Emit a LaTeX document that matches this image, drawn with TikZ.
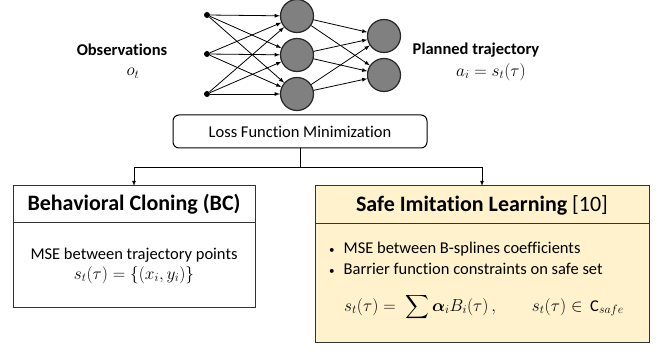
\documentclass[tikz,border=0pt]{standalone}
\usepackage{amsmath,amssymb}
\usepackage{fontspec}
\setmainfont{Carlito}[Ligatures=NoCommon]
\usepackage{tikz}
\usetikzlibrary{calc, arrows, positioning}
\tikzset{>=latex}
\definecolor{myyellow}{RGB}{255, 242, 204}
\definecolor{mygray}{RGB}{128, 128, 128}
\newcommand{\smallbullet}{{\fontsize{11}{11}\selectfont\textbullet}\hspace{9pt}}

\begin{document}
\begin{tikzpicture}[x=1pt, y=-1pt, font=\fontsize{16.5}{20}\selectfont,
	dot/.style={circle, fill=black, inner sep=0, minimum size=6pt},
	neuron/.style={circle, draw=black!85, fill=mygray, line width=1.2pt, minimum size=33pt, inner sep=0},
	conn/.style={->, line width=0.8pt},
	headbox/.style={draw=black!80, line width=1pt, outer sep=0, inner sep=0, font=\fontsize{22}{26}\selectfont\bfseries},
	bodybox/.style={draw=black!80, line width=1pt, outer sep=0, inner sep=0, align=center}]
\useasboundingbox (0,0) rectangle (664,352);

% network
\foreach \y [count=\i] in {15, 54, 94}{
	\node[dot] (in\i) at (207,\y) {};
}
\foreach \y [count=\i] in {16, 55, 94}{
	\node[neuron] (h\i) at (297,\y) {};
}
\foreach \y [count=\i] in {36, 75}{
	\node[neuron] (out\i) at (384,\y) {};
}
\foreach \i in {1, 2, 3}{
	\foreach \j in {1, 2, 3}{
		\draw[conn] (in\i) -- (h\j);
	}
	\foreach \j in {1, 2}{
		\draw[conn] (h\i) -- (out\j);
	}
}

\node[font=\fontsize{16.5}{20}\selectfont\bfseries] (obs) at (122,50) {Observations};
\node (ot) at (133,73) {$o_t$};
\node[font=\fontsize{16.5}{20}\selectfont\bfseries] (plan) at (476,50) {Planned trajectory};
\node (ai) at (491,72) {$a_i = s_t(\tau)$};

\node[draw, line width=1pt, rounded corners=6pt, minimum width=254pt, minimum height=33pt] (loss) at (300,131.5) {Loss Function Minimization};

% behavioral cloning
\node[headbox, minimum width=242pt, minimum height=37pt] (bchead) at (134,204.5) {Behavioral Cloning (BC)};
\node[bodybox, minimum width=242pt, minimum height=85pt, below=0pt of bchead] (bcbody)
	{MSE between trajectory points \\ $s_t(\tau) = \{(x_i, y_i)\}$};

% safe imitation learning
\node[headbox, fill=myyellow, minimum width=334pt, minimum height=38pt] (safehead) at (482,205) {Safe Imitation Learning \mdseries[10]};
\node[bodybox, fill=myyellow, minimum width=334pt, minimum height=119pt, below=0pt of safehead] (safebody) {};
\node[anchor=west, inner sep=0] (item1) at (329,249) {\smallbullet MSE between B-splines coefficients};
\node[anchor=west, inner sep=0] (item2) at (329,269) {\smallbullet Barrier function constraints on safe set};
\node[inner sep=0] (eq) at (484,307) {$s_t(\tau) = \;\displaystyle\sum \boldsymbol{\alpha}_i B_i(\tau)\,, \qquad s_t(\tau) \in \,\text{C}_{safe}$};

\coordinate (split) at ($(loss.south)+(0,19)$);
\draw[line width=0.8pt] (loss.south) -- (split);
\draw[conn] (split) -| (bchead.north);
\draw[conn] (split) -| (safehead.north);

\end{tikzpicture}
\end{document}
